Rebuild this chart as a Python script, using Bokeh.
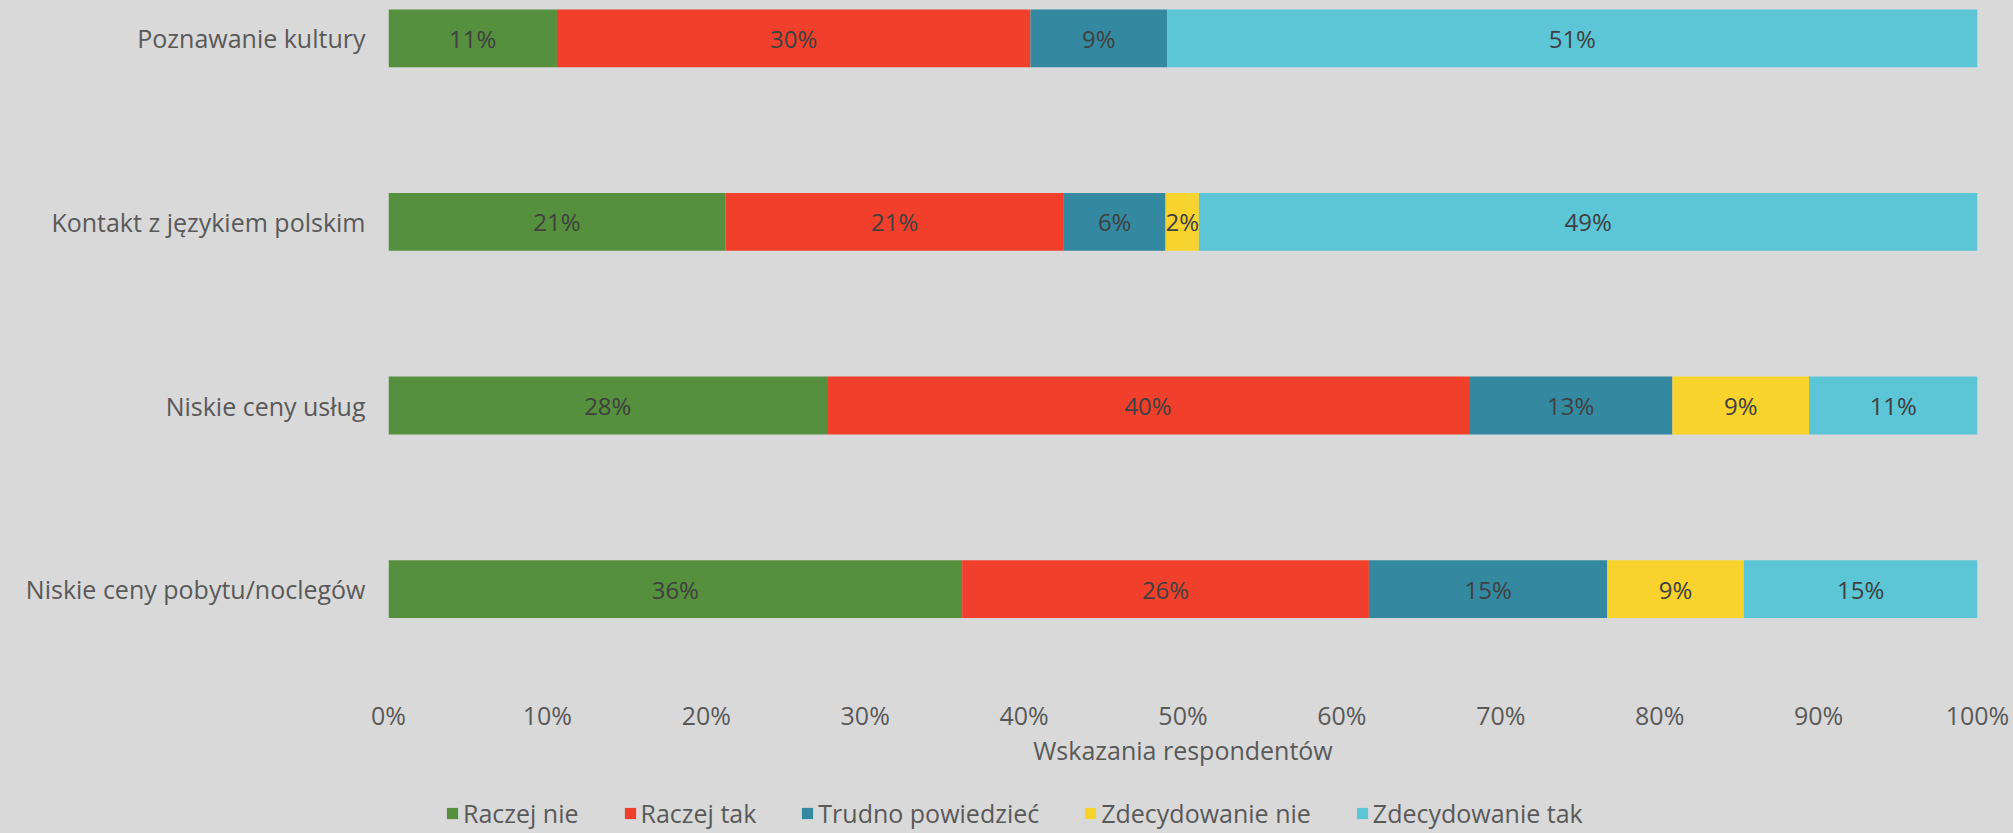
from bokeh.plotting import figure
from bokeh.layouts import column
from bokeh.models import ColumnDataSource, Range1d, FixedTicker, NumeralTickFormatter, Legend
from bokeh.core.properties import value
from bokeh.embed import file_html
from bokeh.resources import INLINE
import numpy as np

# ---- data (bottom to top) ----
categories = ["Niskie ceny pobytu/noclegów", "Niskie ceny usług",
              "Kontakt z językiem polskim", "Poznawanie kultury"]
series = ["Raczej nie", "Raczej tak", "Trudno powiedzieć",
          "Zdecydowanie nie", "Zdecydowanie tak"]
raczej_nie = [36.1, 27.6, 21.2, 10.6]
raczej_tak = [25.6, 40.4, 21.3, 29.8]
trudno = [15.0, 12.8, 6.4, 8.6]
zdecydowanie_nie = [8.6, 8.6, 2.1, 0.0]
zdecydowanie_tak = [14.7, 10.6, 49.0, 51.0]
x_ticks = [0, 0.1, 0.2, 0.3, 0.4, 0.5, 0.6, 0.7, 0.8, 0.9, 1.0]
x_title = "Wskazania respondentów"

colors = ["#568F3E", "#F0402B", "#3489A0", "#F8D32E", "#5CC5D6"]
FONT = "Open Sans"
FS = "25px"
BG = "#D9D9D9"

values = [raczej_nie, raczej_tak, trudno, zdecydowanie_nie, zdecydowanie_tak]
y_pos = list(range(len(categories)))
data = {"y": y_pos}
for name, vals in zip(series, values):
    data[name] = [v / 100 for v in vals]
source = ColumnDataSource(data)

W = 2013
H_MAIN, H_LEG = 770, 63
p = figure(width=W, height=H_MAIN, output_backend="svg", toolbar_location=None,
           x_range=Range1d(0, 1), y_range=Range1d(-0.552, 3.206),
           min_border_left=388, min_border_right=36, min_border_top=0,
           min_border_bottom=80)
p.background_fill_color = BG
p.border_fill_color = BG
p.outline_line_color = None
p.xgrid.visible = False
p.ygrid.visible = False

renderers = p.hbar_stack(series, y="y", height=0.315, color=colors, source=source,
                         line_width=0)

# data labels
lab_x, lab_y, lab_t = [], [], []
arr = np.array([[v / 100 for v in vals] for vals in values])
cum = np.cumsum(arr, axis=0)
for i in range(arr.shape[0]):
    for j in range(arr.shape[1]):
        v = arr[i, j]
        if v <= 0:
            continue
        lab_x.append(cum[i, j] - v / 2)
        lab_y.append(y_pos[j])
        lab_t.append(f"{round(v * 100)}%")
p.text(x=lab_x, y=lab_y, text=lab_t, text_align="center", text_baseline="middle",
       text_font=value(FONT), text_font_size="24px", text_color="#404040")

# axes
p.xaxis.ticker = FixedTicker(ticks=x_ticks)
p.xaxis.formatter = NumeralTickFormatter(format="0%")
p.xaxis.axis_line_color = None
p.xaxis.major_tick_line_color = None
p.xaxis.major_tick_out = 0
p.xaxis.minor_tick_line_color = None
p.xaxis.minor_tick_out = 0
p.xaxis.major_label_standoff = 7
p.xaxis.major_label_text_font = FONT
p.xaxis.major_label_text_font_size = FS
p.xaxis.major_label_text_color = "#595959"
p.xaxis.axis_label = x_title
p.xaxis.axis_label_standoff = -2
p.xaxis.axis_label_text_font = FONT
p.xaxis.axis_label_text_font_size = FS
p.xaxis.axis_label_text_font_style = "normal"
p.xaxis.axis_label_text_color = "#595959"

p.yaxis.ticker = FixedTicker(ticks=y_pos)
p.yaxis.major_label_overrides = {i: c for i, c in zip(y_pos, categories)}
p.yaxis.axis_line_color = None
p.yaxis.major_tick_line_color = None
p.yaxis.major_tick_out = 0
p.yaxis.minor_tick_line_color = None
p.yaxis.minor_tick_out = 0
p.yaxis.major_label_standoff = 23
p.yaxis.major_label_text_font = FONT
p.yaxis.major_label_text_font_size = FS
p.yaxis.major_label_text_color = "#595959"

# legend strip (separate figure so the legend is not clipped by the main frame)
p2 = figure(width=W, height=H_LEG, output_backend="svg", toolbar_location=None,
            x_range=Range1d(0, 1), y_range=Range1d(10, 11),
            min_border_left=0, min_border_right=0, min_border_top=0,
            min_border_bottom=0)
p2.axis.visible = False
p2.grid.visible = False
p2.background_fill_color = BG
p2.border_fill_color = BG
p2.outline_line_color = None
leg_renderers = p2.hbar_stack(series, y="y", height=0.315, color=colors,
                              source=source, line_width=0)
legend = Legend(items=[(s, [r]) for s, r in zip(series, leg_renderers)],
                orientation="horizontal", location=(57, 3),
                glyph_width=14, glyph_height=14, label_standoff=4, spacing=44,
                padding=0, margin=0, background_fill_alpha=0, border_line_color=None,
                label_text_font=FONT, label_text_font_size=FS,
                label_text_color="#595959")
p2.add_layout(legend, "center")

layout = column(p, p2, spacing=0)
html = file_html(layout, INLINE)
html = html.replace("<head>", "<head><style>body{background:#D9D9D9;}</style>", 1)
open("out.html", "w").write(html)
